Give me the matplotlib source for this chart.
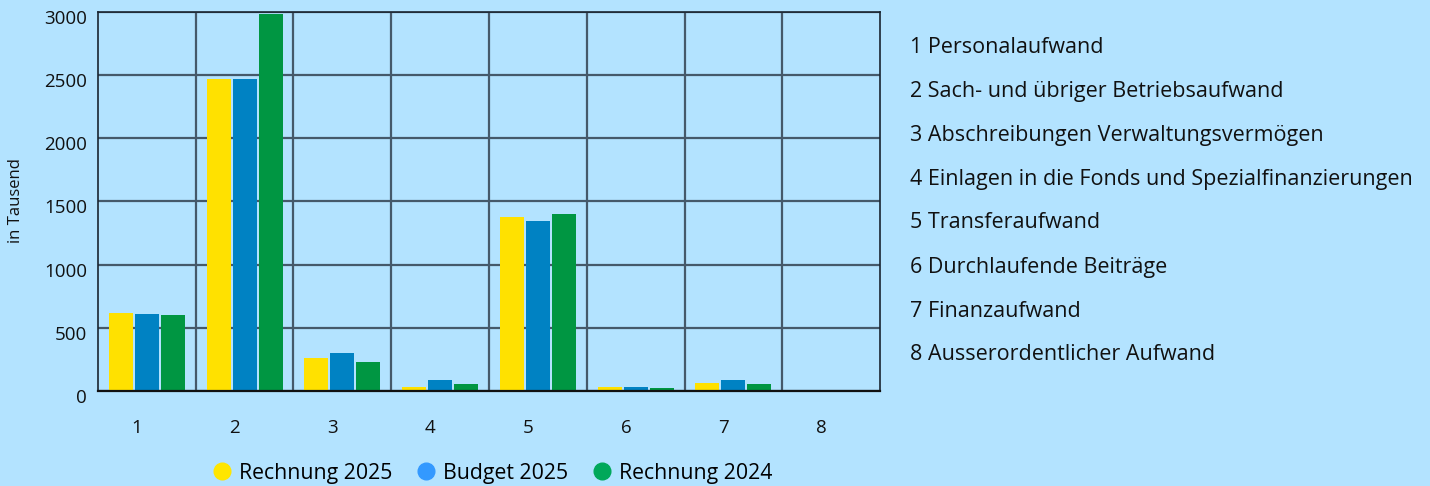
import matplotlib.pyplot as plt
import matplotlib.transforms as mtransforms
from matplotlib.lines import Line2D
import numpy as np

plt.rcParams['font.family'] = ['Open Sans', 'DejaVu Sans']

# Daten (in Tausend)
kategorien = ['1', '2', '3', '4', '5', '6', '7', '8']
rechnung_2025 = [615, 2469, 264, 32, 1378, 32, 63, 0]
budget_2025 = [612, 2471, 301, 87, 1346, 34, 87, 0]
rechnung_2024 = [602, 2985, 230, 55, 1402, 24, 55, 0]

beschriftungen = [
    '1 Personalaufwand',
    '2 Sach- und übriger Betriebsaufwand',
    '3 Abschreibungen Verwaltungsvermögen',
    '4 Einlagen in die Fonds und Spezialfinanzierungen',
    '5 Transferaufwand',
    '6 Durchlaufende Beiträge',
    '7 Finanzaufwand',
    '8 Ausserordentlicher Aufwand',
]

serien = ['Rechnung 2025', 'Budget 2025', 'Rechnung 2024']
farben = ['#FFE100', '#0082C3', '#009642']
legenden_farben = ['#FFE600', '#3399FF', '#00A85A']

bg = '#B3E3FF'

fig = plt.figure(figsize=(14.3, 4.86), dpi=100, facecolor=bg)
ax = fig.add_axes([0.0685, 0.1955, 0.5469, 0.7798], facecolor=bg)

x = np.arange(len(kategorien))
breite = 0.245
abstand = 0.266
for i, (werte, farbe) in enumerate(zip([rechnung_2025, budget_2025, rechnung_2024], farben)):
    ax.bar(x + (i - 1) * abstand, werte, width=breite, color=farbe, zorder=2)

ax.set_xlim(-0.5, len(kategorien) - 0.5)
ax.set_ylim(0, 3000)
ax.set_yticks(range(0, 3001, 500))
ax.set_xticks(x - 0.1)
ax.set_xticklabels(kategorien)
ax.set_xticks(np.arange(0.5, len(kategorien) - 0.5, 1), minor=True)
ax.tick_params(axis='both', which='both', length=0, labelsize=13.5, colors='#111111')
ax.tick_params(axis='y', pad=8)
ax.tick_params(axis='x', pad=20)

# y-Beschriftungen etwas nach unten schieben
versatz = mtransforms.ScaledTranslation(0, -5 / 100, fig.dpi_scale_trans)
for lbl in ax.get_yticklabels():
    lbl.set_transform(lbl.get_transform() + versatz)

ax.grid(True, axis='y', color='#45596a', linewidth=1.6, zorder=1)
ax.grid(True, axis='x', which='minor', color='#45596a', linewidth=1.6, zorder=1)
for s in ax.spines.values():
    s.set_color('#1a2530')
    s.set_linewidth(1.2)
ax.spines['bottom'].set_color('#111111')
ax.spines['bottom'].set_linewidth(1.6)

# y-Achsentitel
fig.text(16 / 1430, 1 - 201 / 486, 'in Tausend', fontsize=12, color='#111111',
         rotation=90, ha='center', va='center')

# Liste rechts
for k, text in enumerate(beschriftungen):
    fig.text(910 / 1430, 1 - (47 + 44 * k) / 486, text, fontsize=15.5,
             color='#111111', va='center', ha='left')

# Legende unten
handles = [Line2D([], [], linestyle='none', marker='o', markersize=12,
                  markerfacecolor=c, markeredgecolor=c) for c in legenden_farben]
fig.legend(handles, serien, loc='center', bbox_to_anchor=(492 / 1430, 1 - 473 / 486),
           ncol=3, frameon=False, fontsize=15.3, handletextpad=0.3,
           columnspacing=1.1, handlelength=1.0)

fig.savefig('out.png', dpi=100, facecolor=bg)
